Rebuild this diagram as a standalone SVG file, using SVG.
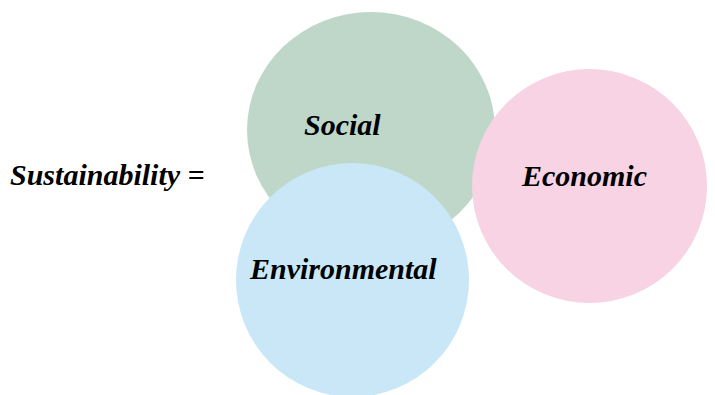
<svg xmlns="http://www.w3.org/2000/svg" width="715" height="395" viewBox="0 0 715 395">
<style>
text{font-family:"Liberation Serif","Times New Roman",serif;font-weight:bold;font-style:italic;font-size:30px;fill:#000}
</style>
<rect width="715" height="395" fill="#fff"/>
<g id="title"><text x="10" y="185">Sustainability =</text></g>
<g id="social"><ellipse cx="371" cy="130" rx="124" ry="118" fill="#BFD7C9"/><text x="304" y="135">Social</text></g>
<g id="economic"><ellipse cx="589.5" cy="186" rx="117.5" ry="117" fill="#F7D3E4"/><text x="522" y="186">Economic</text></g>
<g id="environmental"><ellipse cx="352.5" cy="280" rx="116.5" ry="117" fill="#C9E7F7"/><text x="250" y="279">Environmental</text></g>
<g id="connectors"/>
</svg>
